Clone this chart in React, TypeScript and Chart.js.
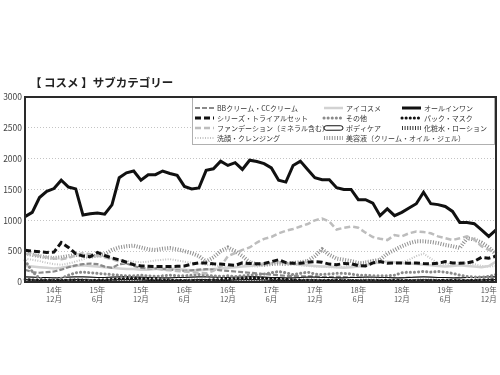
import React, { useEffect, useRef } from 'react';
import { Chart, registerables } from 'chart.js';
Chart.register(...registerables);

const FONT = "'Noto Sans CJK JP', 'Noto Sans', sans-serif";
const TITLE = '【 コスメ 】サブカテゴリー';

const months = [
  '2014-08','2014-09','2014-10','2014-11','2014-12',
  '2015-01','2015-02','2015-03','2015-04','2015-05','2015-06','2015-07','2015-08','2015-09','2015-10','2015-11','2015-12',
  '2016-01','2016-02','2016-03','2016-04','2016-05','2016-06','2016-07','2016-08','2016-09','2016-10','2016-11','2016-12',
  '2017-01','2017-02','2017-03','2017-04','2017-05','2017-06','2017-07','2017-08','2017-09','2017-10','2017-11','2017-12',
  '2018-01','2018-02','2018-03','2018-04','2018-05','2018-06','2018-07','2018-08','2018-09','2018-10','2018-11','2018-12',
  '2019-01','2019-02','2019-03','2019-04','2019-05','2019-06','2019-07','2019-08','2019-09','2019-10','2019-11','2019-12',
  '2020-01',
];
const labeledMonths = ['06', '12'];
const yTicks = [0, 500, 1000, 1500, 2000, 2500, 3000];

const allInOne = [1060,1130,1370,1470,1515,1650,1540,1510,1085,1105,1120,1100,1250,1690,1770,1800,1650,1740,1740,1800,1760,1730,1550,1510,1525,1810,1835,1960,1890,1935,1825,1975,1955,1920,1850,1650,1620,1890,1960,1825,1690,1660,1660,1530,1500,1500,1335,1335,1280,1075,1185,1075,1130,1200,1270,1455,1270,1255,1225,1145,965,965,945,845,740,845];
const seriesTrial = [515,500,490,480,485,640,560,460,420,410,480,430,390,360,320,280,260,255,250,250,250,255,260,290,310,310,295,290,280,270,310,300,295,300,330,360,315,305,305,320,330,320,290,280,300,295,265,260,310,330,305,310,310,305,310,300,295,305,330,310,305,310,335,400,385,420];
const foundation = [460,450,420,400,380,370,390,430,470,450,430,400,370,330,300,280,260,240,220,200,190,180,170,160,150,140,180,250,420,470,520,560,640,700,730,790,830,860,900,940,1000,1030,980,850,880,900,880,800,730,700,680,760,740,790,820,810,790,740,710,680,710,740,690,580,520,480];
const serum = [470,440,420,400,390,400,420,440,430,410,430,450,520,560,580,590,560,530,520,540,550,530,500,470,420,330,400,500,560,500,420,320,290,280,290,300,290,310,320,340,420,530,440,380,360,340,310,300,340,360,460,520,580,630,660,660,650,630,600,580,550,710,690,640,560,450];
const cleansing = [380,360,340,310,290,280,300,330,370,400,420,410,380,360,340,330,320,330,350,360,370,350,330,310,300,280,270,260,250,260,280,260,250,270,300,320,300,280,270,260,250,250,240,240,250,270,300,340,360,350,330,310,320,360,420,460,380,300,290,300,320,300,290,260,250,260];
const eyeCosme = [260,250,240,230,220,230,250,260,270,260,250,240,230,220,210,210,200,200,210,220,220,210,200,190,190,200,210,220,230,240,250,260,270,280,300,320,310,290,280,270,260,250,250,240,230,240,250,270,300,320,330,320,310,300,290,280,270,260,250,260,270,260,250,240,260,330];
const bbCream = [200,160,150,160,170,200,240,270,290,300,290,250,230,290,300,260,230,220,220,210,200,190,180,190,200,210,200,190,180,170,160,150,140,130,120,110,100,100,90,90,90,80,80,85,80,70,75,70,60,65,60,55,60,70,65,60,55,60,55,60,65,60,55,60,65,70];
const others = [350,170,60,30,40,60,110,150,160,150,140,130,120,110,100,100,110,100,90,100,110,100,100,110,120,110,100,90,100,90,100,110,120,130,150,170,150,120,140,160,130,120,130,140,140,130,110,110,100,100,100,110,150,160,160,170,160,170,160,140,110,90,80,80,90,120];
const packMask = [40,35,30,30,25,30,30,35,30,25,30,35,40,50,55,60,55,45,40,35,30,30,25,25,30,30,35,40,45,50,55,60,65,60,55,45,40,35,30,30,25,25,30,30,25,25,20,20,25,25,30,30,25,25,20,20,25,25,30,30,25,25,30,30,35,40];
const bodyCare = [60,55,50,50,45,50,55,60,60,55,50,50,55,60,65,60,55,50,50,45,45,50,50,55,60,60,55,50,50,55,60,65,60,55,50,50,45,45,50,55,55,50,50,45,45,50,50,55,55,50,50,45,45,50,55,60,55,50,50,45,45,50,50,55,60,60];
const lotion = [20,18,15,15,15,15,18,20,20,18,16,15,15,18,20,22,20,18,15,15,15,16,18,20,20,18,16,15,15,18,20,22,20,18,16,15,15,16,18,20,20,18,16,15,15,16,18,20,20,18,16,15,15,16,18,20,20,18,16,15,15,16,18,20,22,25];

type Sty = { kind: 'line' | 'hollow'; color: string; width: number; dash: number[]; cap: CanvasLineCap };

const styles: Record<string, Sty> = {
  bb: { kind: 'line', color: '#8a8a8a', width: 2.2, dash: [5, 2], cap: 'butt' },
  eye: { kind: 'line', color: '#d2d2d2', width: 2.5, dash: [], cap: 'butt' },
  all: { kind: 'line', color: '#111111', width: 3, dash: [], cap: 'butt' },
  trial: { kind: 'line', color: '#111111', width: 3, dash: [6, 3], cap: 'butt' },
  other: { kind: 'line', color: '#8a8a8a', width: 3, dash: [0.1, 4], cap: 'round' },
  pack: { kind: 'line', color: '#111111', width: 3, dash: [0.1, 4], cap: 'round' },
  found: { kind: 'line', color: '#bdbdbd', width: 2.5, dash: [6, 3], cap: 'butt' },
  body: { kind: 'hollow', color: '#111111', width: 4, dash: [], cap: 'butt' },
  lotion: { kind: 'line', color: '#333333', width: 4, dash: [1, 1.6], cap: 'butt' },
  cleanse: { kind: 'line', color: '#c4c4c4', width: 2, dash: [1, 1.5], cap: 'butt' },
  serum: { kind: 'line', color: '#8f8f8f', width: 4, dash: [1, 1.6], cap: 'butt' },
};

const series = [
  { label: 'BBクリーム・CCクリーム', data: bbCream, style: styles.bb, order: 8 },
  { label: 'アイコスメ', data: eyeCosme, style: styles.eye, order: 9 },
  { label: 'オールインワン', data: allInOne, style: styles.all, order: 0 },
  { label: 'シリーズ・トライアルセット', data: seriesTrial, style: styles.trial, order: 1 },
  { label: 'その他', data: others, style: styles.other, order: 5 },
  { label: 'パック・マスク', data: packMask, style: styles.pack, order: 4 },
  { label: 'ファンデーション（ミネラル含む）', data: foundation, style: styles.found, order: 2 },
  { label: 'ボディケア', data: bodyCare, style: styles.body, order: 7 },
  { label: '化粧水・ローション', data: lotion, style: styles.lotion, order: 3 },
  { label: '洗顔・クレンジング', data: cleansing, style: styles.cleanse, order: 10 },
  { label: '美容液（クリーム・オイル・ジェル）', data: serum, style: styles.serum, order: 6 },
];

const drawMarker = (ctx: CanvasRenderingContext2D, s: Sty, x1: number, x2: number, y: number) => {
  ctx.save();
  if (s.kind === 'hollow') {
    ctx.fillStyle = '#fff';
    ctx.strokeStyle = '#111';
    ctx.lineWidth = 1;
    const h = 4.5, r = 2.2;
    ctx.beginPath();
    ctx.moveTo(x1 + r, y - h / 2);
    ctx.lineTo(x2 - r, y - h / 2);
    ctx.arc(x2 - r, y, r, -Math.PI / 2, Math.PI / 2);
    ctx.lineTo(x1 + r, y + h / 2);
    ctx.arc(x1 + r, y, r, Math.PI / 2, Math.PI * 1.5);
    ctx.closePath();
    ctx.fill();
    ctx.stroke();
  } else {
    ctx.strokeStyle = s.color;
    ctx.lineWidth = s.width;
    ctx.setLineDash(s.dash);
    ctx.lineCap = s.cap;
    ctx.beginPath();
    ctx.moveTo(x1, y);
    ctx.lineTo(x2, y);
    ctx.stroke();
  }
  ctx.restore();
};

const overlayPlugin = {
  id: 'cosmeOverlay',
  afterDraw(chart: any) {
    const ctx: CanvasRenderingContext2D = chart.ctx;
    const a = chart.chartArea;
    // legend box
    const box = { l: 192, t: a.top, r: 494, b: 144 };
    ctx.save();
    ctx.fillStyle = '#fff';
    ctx.fillRect(box.l, box.t, box.r - box.l, box.b - box.t);
    ctx.strokeStyle = '#b0b0b0';
    ctx.lineWidth = 1;
    ctx.strokeRect(box.l + 0.5, box.t + 0.5, box.r - box.l, box.b - box.t);
    ctx.restore();
    const colX = [195, 324, 402];
    const rowY = [108, 118, 128, 138];
    series.forEach((s, i) => {
      const x = colX[i % 3];
      const y = rowY[Math.floor(i / 3)];
      drawMarker(ctx, s.style, x, x + 19, y);
      ctx.save();
      ctx.font = `7px ${FONT}`;
      ctx.fillStyle = '#333';
      ctx.textBaseline = 'middle';
      ctx.textAlign = 'left';
      ctx.fillText(s.label, x + 22, y);
      ctx.restore();
    });
    // frame
    ctx.save();
    ctx.strokeStyle = '#2a2a2a';
    ctx.lineWidth = 2;
    ctx.strokeRect(a.left, a.top, a.right - a.left, a.bottom - a.top);
    ctx.restore();
    // clean band above title, then title
    ctx.save();
    ctx.fillStyle = '#fff';
    ctx.fillRect(0, 0, chart.width, 76);
    ctx.font = `bold 11.5px ${FONT}`;
    ctx.fillStyle = '#222';
    ctx.textBaseline = 'middle';
    ctx.textAlign = 'left';
    ctx.fillText(TITLE, 30, 83);
    ctx.restore();
  },
};

export default function App() {
  const ref = useRef<HTMLCanvasElement>(null);
  useEffect(() => {
    if (!ref.current) return;
    const datasets: any[] = [];
    series.forEach((s) => {
      const st = s.style;
      datasets.push({
        label: s.label,
        data: s.data,
        borderColor: st.color,
        borderWidth: st.width,
        borderDash: st.dash,
        borderCapStyle: st.cap,
        pointRadius: 0,
        tension: 0,
        fill: false,
        order: s.order * 2 + 1,
      });
      if (st.kind === 'hollow') {
        datasets.push({
          label: s.label + ' ',
          data: s.data,
          borderColor: '#ffffff',
          borderWidth: 1.6,
          pointRadius: 0,
          tension: 0,
          fill: false,
          order: s.order * 2,
        });
      }
    });
    const chart = new Chart(ref.current, {
      type: 'line',
      data: { labels: months, datasets },
      options: {
        animation: false,
        responsive: false,
        maintainAspectRatio: false,
        devicePixelRatio: 1,
        layout: { padding: { left: 0, top: 97, right: 4, bottom: 63 } },
        plugins: { legend: { display: false }, title: { display: false }, tooltip: { enabled: false } },
        scales: {
          x: {
            type: 'category',
            grid: { display: false, drawTicks: false },
            border: { display: false },
            ticks: {
              autoSkip: false, maxRotation: 0, minRotation: 0, padding: 3, color: '#555',
              font: { family: FONT, size: 7.5, lineHeight: 1.25 },
              callback: (v: any, i: number) => {
                const [yy, mm] = months[i].split('-');
                if (!labeledMonths.includes(mm)) return '';
                return [`${yy.slice(2)}年`, `${parseInt(mm, 10)}月`];
              },
            },
            afterFit: (s: any) => { s.height = 30; },
          },
          y: {
            min: 0, max: 3000,
            afterBuildTicks: (s: any) => { s.ticks = yTicks.map((v) => ({ value: v })); },
            grid: { color: '#c4c4c4', lineWidth: 1, drawTicks: false },
            border: { display: false, dash: [1, 2] },
            ticks: { padding: 3, color: '#444', font: { family: FONT, size: 8.5 }, callback: (v: any) => String(v) },
            afterFit: (s: any) => { s.width = 25; },
          },
        },
      },
      plugins: [overlayPlugin],
    } as any);
    return () => chart.destroy();
  }, []);
  return (
    <div style={{ position: 'absolute', left: 0, top: 0, width: 500, height: 375, background: '#fff' }}>
      <canvas ref={ref} width={500} height={375} style={{ width: 500, height: 375, display: 'block' }} />
    </div>
  );
}
